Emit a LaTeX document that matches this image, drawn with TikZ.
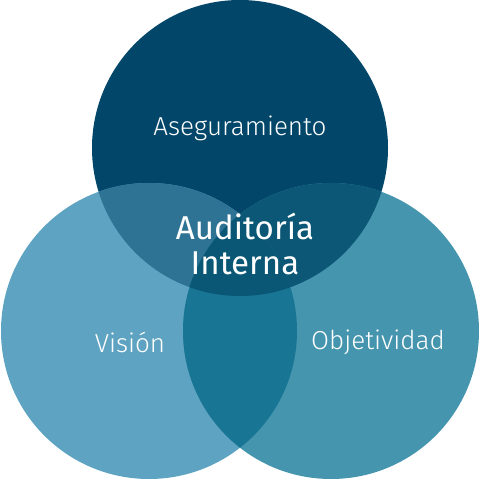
\documentclass[tikz,border=0pt]{standalone}
\usepackage{fontspec}
\setmainfont{Fira Sans}
\newfontfamily\thinfont{Fira Sans Light}
\definecolor{topblue}{HTML}{02476A}
\definecolor{leftblue}{HTML}{5EA3C1}
\definecolor{rightblue}{HTML}{4595AE}
\definecolor{topleft}{HTML}{2F7394}
\definecolor{topright}{HTML}{0B5775}
\definecolor{leftright}{HTML}{187594}
\definecolor{allthree}{HTML}{0A5675}

\begin{document}
\begin{tikzpicture}[x=0.025cm, y=0.025cm,
  area/.style={text=white, font=\thinfont\fontsize{18.5}{22}\selectfont},
  core/.style={text=white, align=center, font=\fontsize{23.5}{25}\selectfont}]
  \useasboundingbox (0,0) rectangle (480,480);
  \coordinate (T) at (240,332);
  \coordinate (L) at (149,149);
  \coordinate (R) at (331,149);
  % circles
  \fill[topblue] (T) circle (148);
  \fill[leftblue] (L) circle (148);
  \fill[rightblue] (R) circle (148);
  % overlaps
  \begin{scope}
    \clip (T) circle (148);
    \fill[topleft] (L) circle (148);
    \fill[topright] (R) circle (148);
  \end{scope}
  \begin{scope}
    \clip (L) circle (148);
    \fill[leftright] (R) circle (148);
    \clip (R) circle (148);
    \fill[allthree] (T) circle (148);
  \end{scope}
  % labels
  \node[area] (aseg) at (240,352) {Aseguramiento};
  \node[area] (vis) at (130,138) {Visión};
  \node[area] (obj) at (378,138) {Objetividad};
  \node[core] (audit) at (245,236) {Auditoría\\Interna};
\end{tikzpicture}
\end{document}
